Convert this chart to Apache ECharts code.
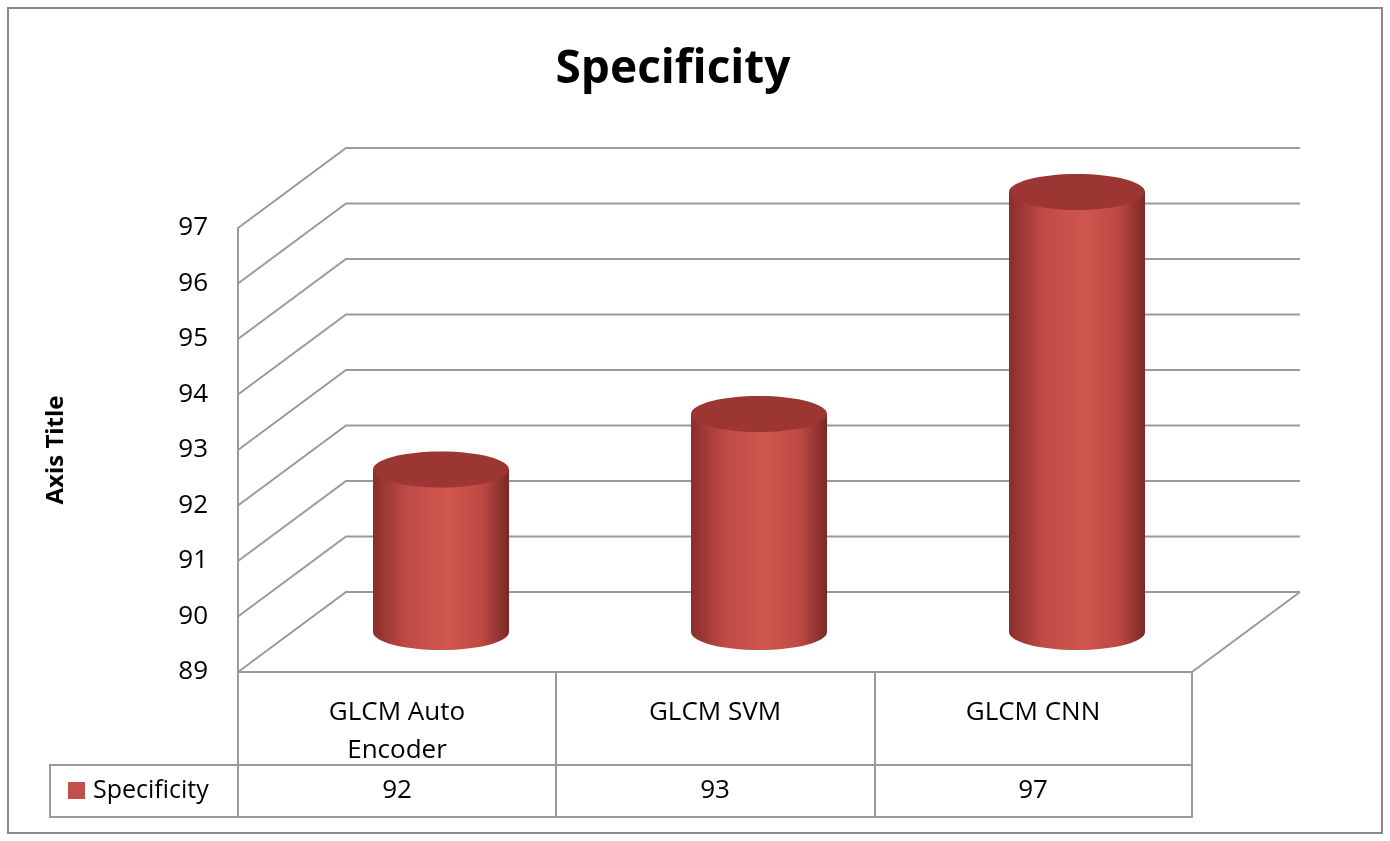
<!DOCTYPE html>
<html><head><meta charset="utf-8">
<script src="https://cdn.jsdelivr.net/npm/echarts@6/dist/echarts.min.js"></script>
<style>html,body{margin:0;background:#fff}#c{width:1390px;height:841px}</style>
</head><body><div id="c"></div>
<script>
const categories = ['GLCM Auto\nEncoder', 'GLCM SVM', 'GLCM CNN'];
const values = [92, 93, 97];
const ticks = [89, 90, 91, 92, 93, 94, 95, 96, 97];
const seriesName = 'Specificity';

const DX = 108, DY = -80, F = 'Open Sans, Liberation Sans, sans-serif';
const chart = echarts.init(document.getElementById('c'));
const grey = '#9a9a9a';
chart.setOption({
  animation: false,
  title: {text: 'Specificity', left: 668, top: 42, textAlign: 'center',
    textStyle: {fontSize: 46, fontWeight: 'bold', fontFamily: F, color: '#000'}},
  grid: {left: 238, right: 198, top: 228, bottom: 169},
  xAxis: {type: 'category', data: categories, axisLine: {show: false}, axisTick: {show: false},
    axisLabel: {margin: 22, fontSize: 26, lineHeight: 38, fontFamily: F, color: '#000', verticalAlign: 'top'}},
  yAxis: {type: 'value', min: 89, max: 97, interval: 1, splitLine: {show: false},
    axisLine: {show: true, lineStyle: {color: grey, width: 2}}, axisTick: {show: false},
    name: 'Axis Title', nameLocation: 'middle', nameGap: 170, nameRotate: 90,
    nameTextStyle: {fontSize: 24, fontWeight: 'bold', fontFamily: F, color: '#000'},
    axisLabel: {fontSize: 26, fontFamily: F, color: '#000', margin: 30}},
  graphic: [
    {type: 'rect', shape: {x: 8, y: 8, width: 1374, height: 825}, style: {fill: 'none', stroke: '#8a8a8a', lineWidth: 2}, z: 0},
    {type: 'polyline', shape: {points: [[238,672],[1192,672],[1192,817],[50,817],[50,765],[1192,765]]}, style: {fill: 'none', stroke: grey, lineWidth: 2}},
    {type: 'polyline', shape: {points: [[238,672],[238,817]]}, style: {stroke: grey, lineWidth: 2}},
    {type: 'polyline', shape: {points: [[556,672],[556,817]]}, style: {stroke: grey, lineWidth: 2}},
    {type: 'polyline', shape: {points: [[875,672],[875,817]]}, style: {stroke: grey, lineWidth: 2}},
    {type: 'polyline', shape: {points: [[1192,672],[1300,592]]}, style: {stroke: grey, lineWidth: 2}},
    {type: 'rect', shape: {x: 68, y: 782, width: 17, height: 17}, style: {fill: '#c0504d'}},
    {type: 'text', x: 93, y: 791, style: {text: seriesName, fontSize: 25, fontFamily: F, fill: '#000', verticalAlign: 'middle'}}
  ],
  series: [
    {type: 'custom', data: ticks.map(t => [0, t]), z: 1,
      renderItem(p, api) {
        const pt = api.coord([0, api.value(1)]);
        const x0 = 238, y = pt[1];
        return {type: 'polyline', shape: {points: [[x0, y], [x0 + DX, y + DY], [1300, y + DY]]},
          style: {fill: 'none', stroke: grey, lineWidth: 2}};
      }},
    {type: 'custom', name: seriesName, data: values.map((v, i) => [i, v]), z: 5,
      renderItem(p, api) {
        const i = api.value(0), v = api.value(1);
        const top = api.coord([i, v]), base = api.coord([i, 89]);
        const cx = top[0] + DX / 2 - 10, ty = top[1] + DY / 2 + 4, by = base[1] + DY / 2;
        const rx = 68, ry = 18;
        const grad = new echarts.graphic.LinearGradient(0, 0, 1, 0, [
          {offset: 0, color: '#8a2e2b'}, {offset: 0.25, color: '#c04a46'},
          {offset: 0.55, color: '#d0564f'}, {offset: 0.8, color: '#be4943'}, {offset: 1, color: '#7a2826'}]);
        return {type: 'group', children: [
          {type: 'ellipse', shape: {cx: cx, cy: by, rx: rx, ry: ry}, style: {fill: grad}},
          {type: 'rect', shape: {x: cx - rx, y: ty, width: 2 * rx, height: by - ty}, style: {fill: grad}},
          {type: 'ellipse', shape: {cx: cx, cy: ty, rx: rx, ry: ry}, style: {fill: '#9c3633'}},
          {type: 'text', x: top[0], y: 791, style: {text: String(v), fontSize: 26, fontFamily: F, fill: '#000', align: 'center', verticalAlign: 'middle'}}
        ]};
      }}
  ]
});
</script></body></html>
